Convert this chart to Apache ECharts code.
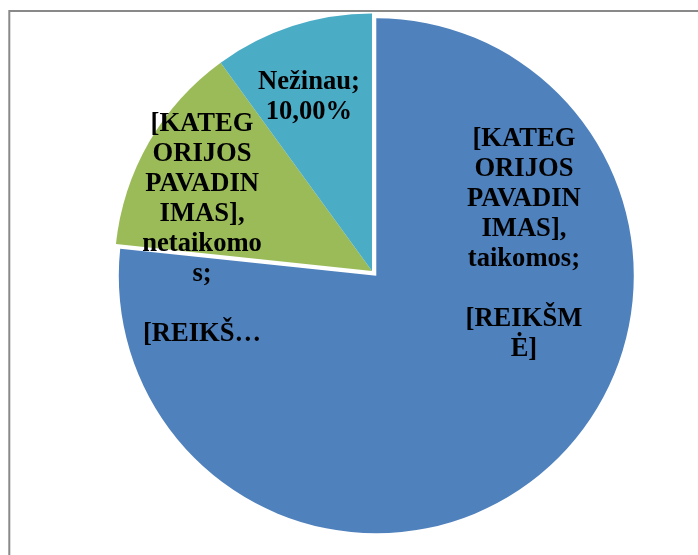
<!DOCTYPE html>
<html>
<head>
<meta charset="utf-8">
<script src="https://cdn.jsdelivr.net/npm/echarts@6/dist/echarts.min.js"></script>
<style>
  html, body { margin: 0; padding: 0; background: #ffffff; }
  #chart { width: 698px; height: 555px; }
</style>
</head>
<body>
<div id="chart"></div>
<script>
// Categories and their counts
const categories = ['[KATEGORIJOS PAVADINIMAS], taikomos', '[KATEGORIJOS PAVADINIMAS], netaikomos', 'Nežinau'];
const counts = [23, 4, 3];
const colors = ['#4F81BD', '#9BBB59', '#4BACC6'];

// Label text as laid out in the chart (manual line breaks; value placeholders)
const labelTexts = [
  '[KATEG\nORIJOS\nPAVADIN\nIMAS],\ntaikomos;\n\n[REIKŠM\nĖ]',
  '[KATEG\nORIJOS\nPAVADIN\nIMAS],\nnetaikomo\ns;\n\n[REIKŠ…',
  null // built from name and percentage
];
// Label anchors relative to the pie centre, in units of the radius
const labelAnchors = [[0.590, -0.105], [-0.660, -0.163], [-0.245, -0.676]];
// Pull-out distance (px) of each slice
const explode = [6.4, 0, 0];

const cx = 372, cy = 271, R = 257.5;
const total = counts.reduce(function (s, v) { return s + v; }, 0);

// Offset of every slice along its own bisector (clockwise from 12 o'clock)
let acc = 0;
const offsets = counts.map(function (v, i) {
  const mid = (acc + v / 2) / total * 2 * Math.PI;
  acc += v;
  return [Math.sin(mid) * explode[i], -Math.cos(mid) * explode[i]];
});

const labelStyle = {
  show: true,
  position: 'inside',
  fontFamily: 'Liberation Serif',
  fontWeight: 'bold',
  fontSize: 26.6,
  lineHeight: 30,
  color: '#000000',
  align: 'center',
  formatter: function (p) {
    if (labelTexts[p.dataIndex]) return labelTexts[p.dataIndex];
    return p.name + ';\n' + p.percent.toFixed(2).replace('.', ',') + '%';
  }
};

// One pie layer per slice so each can sit at its own pulled-out centre
const series = counts.map(function (_, k) {
  return {
    type: 'pie',
    center: [cx + offsets[k][0], cy + offsets[k][1]],
    radius: [0, R],
    startAngle: 90,
    clockwise: true,
    avoidLabelOverlap: false,
    percentPrecision: 2,
    emphasis: { disabled: true },
    labelLine: { show: false },
    label: labelStyle,
    labelLayout: function (p) {
      const a = labelAnchors[p.dataIndex];
      return { x: cx + a[0] * R, y: cy + a[1] * R, align: 'center', verticalAlign: 'middle' };
    },
    data: categories.map(function (name, i) {
      return {
        name: name,
        value: counts[i],
        itemStyle: { color: colors[i], borderWidth: 0, opacity: i === k ? 1 : 0 },
        label: { show: i === k }
      };
    })
  };
});

const chart = echarts.init(document.getElementById('chart'), null, { renderer: 'canvas' });

chart.setOption({
  animation: false,
  backgroundColor: '#ffffff',
  graphic: [{
    type: 'rect',
    shape: { x: 9.3, y: 11, width: 720, height: 580 },
    style: { fill: 'none', stroke: '#898989', lineWidth: 2 },
    silent: true,
    z: -1
  }],
  series: series
});
</script>
</body>
</html>
